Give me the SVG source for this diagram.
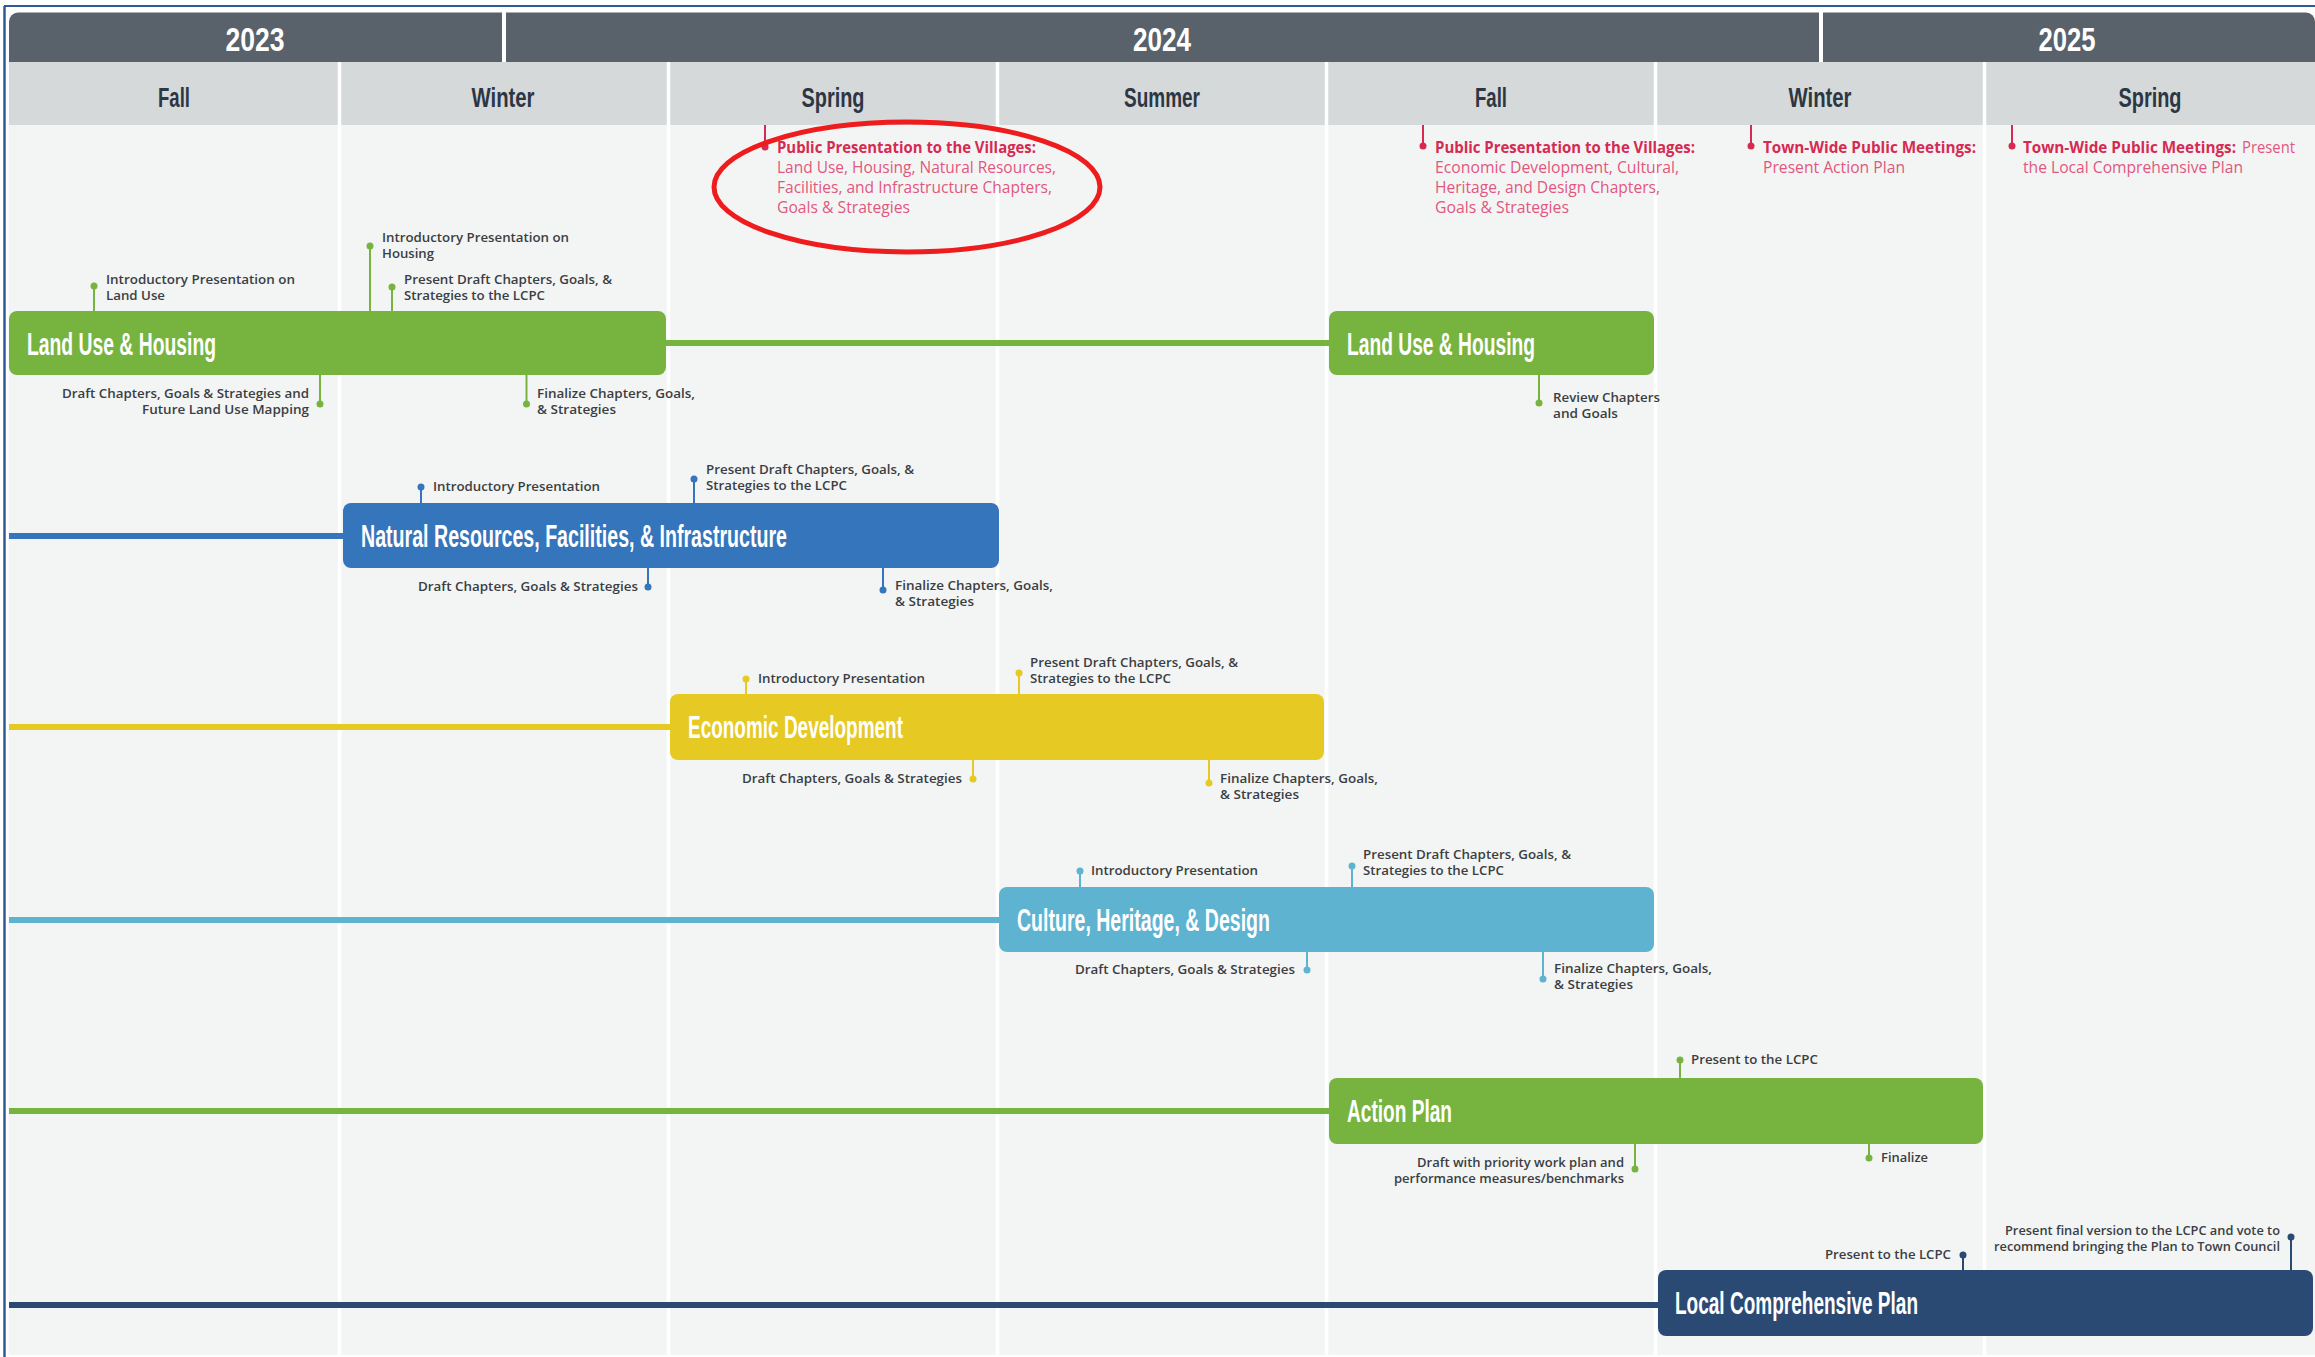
<svg xmlns="http://www.w3.org/2000/svg" width="2315" height="1357" viewBox="0 0 2315 1357">
<defs>
<style>
.bg{fill:#f3f5f4}
.yrband{fill:#59626b}
.seband{fill:#d5d9da}
.div{stroke:#ffffff;stroke-width:4}
.divb{stroke:#ffffff;stroke-width:3.5}
.yr{font-family:"Liberation Sans Narrow","Liberation Sans",sans-serif;font-size:33px;font-weight:700;fill:#ffffff;text-anchor:middle}
.se{font-family:"Liberation Sans Narrow","Liberation Sans",sans-serif;font-size:28px;font-weight:700;fill:#2d3643;text-anchor:middle}
.bl{font-family:"Liberation Sans Narrow","Liberation Sans",sans-serif;font-size:31px;font-weight:700;fill:#ffffff}
.sm{font-family:"Open Sans","Liberation Sans",sans-serif;font-size:13px;font-weight:600;fill:#3b3e43}
.end{text-anchor:end}
.pk{font-family:"Open Sans","Liberation Sans",sans-serif;font-size:16px;fill:#e2577e}
.pkb{font-weight:700;fill:#d62a52}
.g{fill:#77b43f}.gs{stroke:#77b43f}
.b{fill:#3575bb}.bs{stroke:#3575bb}
.y{fill:#e6c922}.ys{stroke:#e6c922}
.c{fill:#5eb3d1}.cs{stroke:#5eb3d1}
.n{fill:#2b4a73}.ns{stroke:#2b4a73}
.r{fill:#d62a52}.rs{stroke:#d62a52}
.stem{stroke-width:2}
.conn{stroke-width:6;fill:none}
</style>
</defs>

<!-- background and grid -->
<rect x="0" y="0" width="2315" height="1357" fill="#ffffff"/>
<line x1="4" y1="6" x2="2315" y2="6" stroke="#2e5a96" stroke-width="2"/>
<line x1="4.5" y1="6" x2="4.5" y2="1357" stroke="#2e5a96" stroke-width="2.5"/>
<rect class="bg" x="8.5" y="120" width="2306.5" height="1235"/>
<rect class="yrband" x="9" y="12.5" width="2306" height="60" rx="9"/>
<rect class="seband" x="9" y="62" width="2306" height="63"/>
<g id="grid">
<line class="div" x1="504" y1="12" x2="504" y2="62"/>
<line class="div" x1="1821" y1="12" x2="1821" y2="62"/>
<line class="divb" x1="339.5" y1="62" x2="339.5" y2="1355"/>
<line class="divb" x1="668.5" y1="62" x2="668.5" y2="1355"/>
<line class="divb" x1="997.5" y1="62" x2="997.5" y2="1355"/>
<line class="divb" x1="1326.5" y1="62" x2="1326.5" y2="1355"/>
<line class="divb" x1="1655.5" y1="62" x2="1655.5" y2="1355"/>
<line class="divb" x1="1984.5" y1="62" x2="1984.5" y2="1355"/>
</g>
<g id="headers">
<text class="yr" x="255" y="51" textLength="59" lengthAdjust="spacingAndGlyphs">2023</text>
<text class="yr" x="1162" y="51" textLength="58" lengthAdjust="spacingAndGlyphs">2024</text>
<text class="yr" x="2067" y="51" textLength="57" lengthAdjust="spacingAndGlyphs">2025</text>
<text class="se" x="174" y="107" textLength="32" lengthAdjust="spacingAndGlyphs">Fall</text>
<text class="se" x="503" y="107" textLength="63" lengthAdjust="spacingAndGlyphs">Winter</text>
<text class="se" x="833" y="107" textLength="63" lengthAdjust="spacingAndGlyphs">Spring</text>
<text class="se" x="1162" y="107" textLength="76" lengthAdjust="spacingAndGlyphs">Summer</text>
<text class="se" x="1491" y="107" textLength="32" lengthAdjust="spacingAndGlyphs">Fall</text>
<text class="se" x="1820" y="107" textLength="63" lengthAdjust="spacingAndGlyphs">Winter</text>
<text class="se" x="2150" y="107" textLength="63" lengthAdjust="spacingAndGlyphs">Spring</text>
</g>

<!-- connectors -->
<g id="connectors">
<line class="conn gs" x1="660" y1="343" x2="1335" y2="343"/>
<line class="conn bs" x1="9" y1="536" x2="350" y2="536"/>
<line class="conn ys" x1="9" y1="727" x2="676" y2="727"/>
<line class="conn cs" x1="9" y1="920" x2="1005" y2="920"/>
<line class="conn gs" x1="9" y1="1111" x2="1335" y2="1111"/>
<line class="conn ns" x1="9" y1="1305" x2="1664" y2="1305"/>
</g>

<!-- public meetings -->
<g id="public-spring-2024">
<line class="stem rs" x1="765" y1="125" x2="765" y2="147"/>
<circle class="r" cx="765" cy="147" r="3.5"/>
<text class="pk pkb" x="777" y="153" textLength="259" lengthAdjust="spacingAndGlyphs">Public Presentation to the Villages:</text>
<text class="pk" x="777" y="173" textLength="279" lengthAdjust="spacingAndGlyphs">Land Use, Housing, Natural Resources,</text>
<text class="pk" x="777" y="193" textLength="275" lengthAdjust="spacingAndGlyphs">Facilities, and Infrastructure Chapters,</text>
<text class="pk" x="777" y="213" textLength="133" lengthAdjust="spacingAndGlyphs">Goals &amp; Strategies</text>
</g>
<ellipse id="highlight" cx="907" cy="187" rx="193" ry="65" fill="none" stroke="#ee1c1c" stroke-width="5"/>
<g id="public-fall-2024">
<line class="stem rs" x1="1423" y1="125" x2="1423" y2="146"/>
<circle class="r" cx="1423" cy="146" r="3.5"/>
<text class="pk pkb" x="1435" y="153" textLength="260" lengthAdjust="spacingAndGlyphs">Public Presentation to the Villages:</text>
<text class="pk" x="1435" y="173" textLength="244" lengthAdjust="spacingAndGlyphs">Economic Development, Cultural,</text>
<text class="pk" x="1435" y="193" textLength="225" lengthAdjust="spacingAndGlyphs">Heritage, and Design Chapters,</text>
<text class="pk" x="1435" y="213" textLength="134" lengthAdjust="spacingAndGlyphs">Goals &amp; Strategies</text>
</g>
<g id="public-winter">
<line class="stem rs" x1="1751" y1="125" x2="1751" y2="146"/>
<circle class="r" cx="1751" cy="146" r="3.5"/>
<text class="pk pkb" x="1763" y="153" textLength="213" lengthAdjust="spacingAndGlyphs">Town-Wide Public Meetings:</text>
<text class="pk" x="1763" y="173" textLength="142" lengthAdjust="spacingAndGlyphs">Present Action Plan</text>
</g>
<g id="public-spring-2025">
<line class="stem rs" x1="2012" y1="125" x2="2012" y2="146"/>
<circle class="r" cx="2012" cy="146" r="3.5"/>
<text class="pk pkb" x="2023" y="153" textLength="213" lengthAdjust="spacingAndGlyphs">Town-Wide Public Meetings:</text>
<text class="pk" x="2242" y="153" textLength="53" lengthAdjust="spacingAndGlyphs">Present</text>
<text class="pk" x="2023" y="173" textLength="220" lengthAdjust="spacingAndGlyphs">the Local Comprehensive Plan</text>
</g>

<!-- Land Use & Housing 1 -->
<g id="land-use-housing-1">
<line class="stem gs" x1="94" y1="286" x2="94" y2="312"/><circle class="g" cx="94" cy="286" r="3.5"/>
<text class="sm" x="106" y="284" textLength="189" lengthAdjust="spacingAndGlyphs">Introductory Presentation on</text>
<text class="sm" x="106" y="300" textLength="59" lengthAdjust="spacingAndGlyphs">Land Use</text>
<line class="stem gs" x1="370" y1="246" x2="370" y2="312"/><circle class="g" cx="370" cy="246" r="3.5"/>
<text class="sm" x="382" y="242" textLength="187" lengthAdjust="spacingAndGlyphs">Introductory Presentation on</text>
<text class="sm" x="382" y="258" textLength="52" lengthAdjust="spacingAndGlyphs">Housing</text>
<line class="stem gs" x1="392" y1="287" x2="392" y2="312"/><circle class="g" cx="392" cy="287" r="3.5"/>
<text class="sm" x="404" y="284" textLength="208" lengthAdjust="spacingAndGlyphs">Present Draft Chapters, Goals, &amp;</text>
<text class="sm" x="404" y="300" textLength="141" lengthAdjust="spacingAndGlyphs">Strategies to the LCPC</text>
<line class="stem gs" x1="320" y1="374" x2="320" y2="404"/><circle class="g" cx="320" cy="404" r="3.5"/>
<text class="sm end" x="309" y="398" textLength="247" lengthAdjust="spacingAndGlyphs">Draft Chapters, Goals &amp; Strategies and</text>
<text class="sm end" x="309" y="414" textLength="167" lengthAdjust="spacingAndGlyphs">Future Land Use Mapping</text>
<line class="stem gs" x1="526.5" y1="374" x2="526.5" y2="404"/><circle class="g" cx="526.5" cy="404" r="3.5"/>
<text class="sm" x="537" y="398" textLength="158" lengthAdjust="spacingAndGlyphs">Finalize Chapters, Goals,</text>
<text class="sm" x="537" y="414" textLength="79" lengthAdjust="spacingAndGlyphs">&amp; Strategies</text>
<rect class="g" x="9" y="311" width="657" height="64" rx="8"/>
<text class="bl" x="27" y="355" textLength="189" lengthAdjust="spacingAndGlyphs">Land Use &amp; Housing</text>
</g>

<!-- Land Use & Housing 2 -->
<g id="land-use-housing-2">
<line class="stem gs" x1="1539" y1="374" x2="1539" y2="403"/><circle class="g" cx="1539" cy="403" r="3.5"/>
<text class="sm" x="1553" y="402" textLength="107" lengthAdjust="spacingAndGlyphs">Review Chapters</text>
<text class="sm" x="1553" y="418" textLength="65" lengthAdjust="spacingAndGlyphs">and Goals</text>
<rect class="g" x="1329" y="311" width="325" height="64" rx="8"/>
<text class="bl" x="1347" y="355" textLength="188" lengthAdjust="spacingAndGlyphs">Land Use &amp; Housing</text>
</g>

<!-- Natural Resources -->
<g id="natural-resources">
<line class="stem bs" x1="421" y1="487" x2="421" y2="504"/><circle class="b" cx="421" cy="487" r="3.5"/>
<text class="sm" x="433" y="491" textLength="167" lengthAdjust="spacingAndGlyphs">Introductory Presentation</text>
<line class="stem bs" x1="694" y1="479" x2="694" y2="504"/><circle class="b" cx="694" cy="479" r="3.5"/>
<text class="sm" x="706" y="474" textLength="208" lengthAdjust="spacingAndGlyphs">Present Draft Chapters, Goals, &amp;</text>
<text class="sm" x="706" y="490" textLength="141" lengthAdjust="spacingAndGlyphs">Strategies to the LCPC</text>
<line class="stem bs" x1="648" y1="567" x2="648" y2="587"/><circle class="b" cx="648" cy="587" r="3.5"/>
<text class="sm end" x="638" y="591" textLength="220" lengthAdjust="spacingAndGlyphs">Draft Chapters, Goals &amp; Strategies</text>
<line class="stem bs" x1="883" y1="567" x2="883" y2="590"/><circle class="b" cx="883" cy="590" r="3.5"/>
<text class="sm" x="895" y="590" textLength="158" lengthAdjust="spacingAndGlyphs">Finalize Chapters, Goals,</text>
<text class="sm" x="895" y="606" textLength="79" lengthAdjust="spacingAndGlyphs">&amp; Strategies</text>
<rect class="b" x="343" y="503" width="656" height="65" rx="8"/>
<text class="bl" x="361" y="547" textLength="426" lengthAdjust="spacingAndGlyphs">Natural Resources, Facilities, &amp; Infrastructure</text>
</g>

<!-- Economic Development -->
<g id="economic-development">
<line class="stem ys" x1="746" y1="679" x2="746" y2="695"/><circle class="y" cx="746" cy="679" r="3.5"/>
<text class="sm" x="758" y="683" textLength="167" lengthAdjust="spacingAndGlyphs">Introductory Presentation</text>
<line class="stem ys" x1="1019" y1="673" x2="1019" y2="695"/><circle class="y" cx="1019" cy="673" r="3.5"/>
<text class="sm" x="1030" y="667" textLength="208" lengthAdjust="spacingAndGlyphs">Present Draft Chapters, Goals, &amp;</text>
<text class="sm" x="1030" y="683" textLength="141" lengthAdjust="spacingAndGlyphs">Strategies to the LCPC</text>
<line class="stem ys" x1="973" y1="759" x2="973" y2="779"/><circle class="y" cx="973" cy="779" r="3.5"/>
<text class="sm end" x="962" y="783" textLength="220" lengthAdjust="spacingAndGlyphs">Draft Chapters, Goals &amp; Strategies</text>
<line class="stem ys" x1="1209" y1="759" x2="1209" y2="783"/><circle class="y" cx="1209" cy="783" r="3.5"/>
<text class="sm" x="1220" y="783" textLength="158" lengthAdjust="spacingAndGlyphs">Finalize Chapters, Goals,</text>
<text class="sm" x="1220" y="799" textLength="79" lengthAdjust="spacingAndGlyphs">&amp; Strategies</text>
<rect class="y" x="670" y="694" width="654" height="66" rx="8"/>
<text class="bl" x="688" y="738" textLength="215" lengthAdjust="spacingAndGlyphs">Economic Development</text>
</g>

<!-- Culture, Heritage, & Design -->
<g id="culture-heritage-design">
<line class="stem cs" x1="1080" y1="871" x2="1080" y2="888"/><circle class="c" cx="1080" cy="871" r="3.5"/>
<text class="sm" x="1091" y="875" textLength="167" lengthAdjust="spacingAndGlyphs">Introductory Presentation</text>
<line class="stem cs" x1="1352" y1="866" x2="1352" y2="888"/><circle class="c" cx="1352" cy="866" r="3.5"/>
<text class="sm" x="1363" y="859" textLength="208" lengthAdjust="spacingAndGlyphs">Present Draft Chapters, Goals, &amp;</text>
<text class="sm" x="1363" y="875" textLength="141" lengthAdjust="spacingAndGlyphs">Strategies to the LCPC</text>
<line class="stem cs" x1="1307" y1="951" x2="1307" y2="970"/><circle class="c" cx="1307" cy="970" r="3.5"/>
<text class="sm end" x="1295" y="974" textLength="220" lengthAdjust="spacingAndGlyphs">Draft Chapters, Goals &amp; Strategies</text>
<line class="stem cs" x1="1543" y1="951" x2="1543" y2="979"/><circle class="c" cx="1543" cy="979" r="3.5"/>
<text class="sm" x="1554" y="973" textLength="158" lengthAdjust="spacingAndGlyphs">Finalize Chapters, Goals,</text>
<text class="sm" x="1554" y="989" textLength="79" lengthAdjust="spacingAndGlyphs">&amp; Strategies</text>
<rect class="c" x="999" y="887" width="655" height="65" rx="8"/>
<text class="bl" x="1017" y="931" textLength="253" lengthAdjust="spacingAndGlyphs">Culture, Heritage, &amp; Design</text>
</g>

<!-- Action Plan -->
<g id="action-plan">
<line class="stem gs" x1="1680" y1="1060" x2="1680" y2="1079"/><circle class="g" cx="1680" cy="1060" r="3.5"/>
<text class="sm" x="1691" y="1064" textLength="127" lengthAdjust="spacingAndGlyphs">Present to the LCPC</text>
<line class="stem gs" x1="1635" y1="1143" x2="1635" y2="1169"/><circle class="g" cx="1635" cy="1169" r="3.5"/>
<text class="sm end" x="1624" y="1167" textLength="207" lengthAdjust="spacingAndGlyphs">Draft with priority work plan and</text>
<text class="sm end" x="1624" y="1183" textLength="230" lengthAdjust="spacingAndGlyphs">performance measures/benchmarks</text>
<line class="stem gs" x1="1869" y1="1143" x2="1869" y2="1158"/><circle class="g" cx="1869" cy="1158" r="3.5"/>
<text class="sm" x="1881" y="1162" textLength="47" lengthAdjust="spacingAndGlyphs">Finalize</text>
<rect class="g" x="1329" y="1078" width="654" height="66" rx="8"/>
<text class="bl" x="1347" y="1122" textLength="105" lengthAdjust="spacingAndGlyphs">Action Plan</text>
</g>

<!-- Local Comprehensive Plan -->
<g id="local-comprehensive-plan">
<line class="stem ns" x1="1963" y1="1255" x2="1963" y2="1271"/><circle class="n" cx="1963" cy="1255" r="3.5"/>
<text class="sm end" x="1951" y="1259" textLength="126" lengthAdjust="spacingAndGlyphs">Present to the LCPC</text>
<line class="stem ns" x1="2291" y1="1237" x2="2291" y2="1271"/><circle class="n" cx="2291" cy="1237" r="3.5"/>
<text class="sm end" x="2280" y="1235" textLength="275" lengthAdjust="spacingAndGlyphs">Present final version to the LCPC and vote to</text>
<text class="sm end" x="2280" y="1251" textLength="286" lengthAdjust="spacingAndGlyphs">recommend bringing the Plan to Town Council</text>
<rect class="n" x="1658" y="1270" width="655" height="66" rx="8"/>
<text class="bl" x="1675" y="1314" textLength="243" lengthAdjust="spacingAndGlyphs">Local Comprehensive Plan</text>
</g>
</svg>
